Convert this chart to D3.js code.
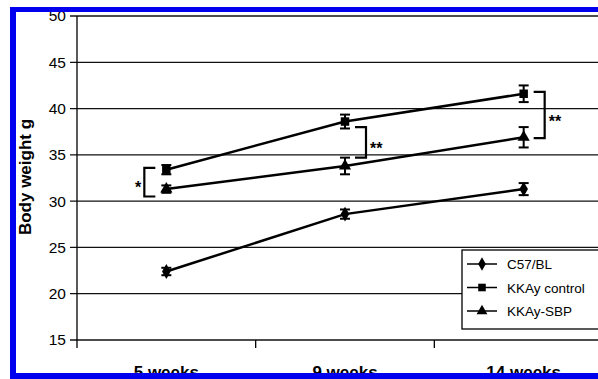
<!DOCTYPE html>
<html>
  <head>
    <style>
      body { margin: 0; background: #fff; }
      svg { display: block; font-family: "Liberation Sans", Arial, sans-serif; }
    </style>
    <script src="https://d3js.org/d3.v7.min.js"></script>
  </head>
  <body>
    <svg width="598" height="379"></svg>
    <script>
      var categories = ["5 weeks", "9 weeks", "14 weeks"];
      var seriesNames = ["C57/BL", "KKAy control", "KKAy-SBP"];
      var c57 = [22.4, 28.6, 31.3];
      var c57Err = [0.4, 0.5, 0.65];
      var kkay = [33.4, 38.6, 41.6];
      var kkayErr = [0.5, 0.75, 0.9];
      var sbp = [31.3, 33.8, 36.9];
      var sbpErr = [0.4, 0.9, 1.1];
      var yTicks = [15, 20, 25, 30, 35, 40, 45, 50];

      var svg = d3.select("svg");

      var x = d3.scaleBand().domain(categories).range([77, 613]);
      var y = d3.scaleLinear().domain([15, 50]).range([340, 16]);

      var series = [
        { name: seriesNames[0], values: c57, err: c57Err, symbol: d3.symbolDiamond, size: 64 },
        { name: seriesNames[1], values: kkay, err: kkayErr, symbol: d3.symbolSquare, size: 72 },
        { name: seriesNames[2], values: sbp, err: sbpErr, symbol: d3.symbolTriangle, size: 64 }
      ];

      function cx(i) {
        return x(categories[i]) + x.bandwidth() / 2;
      }

      // gridlines
      svg.append("g")
        .selectAll("line")
        .data(yTicks)
        .enter()
        .append("line")
        .attr("x1", 70)
        .attr("x2", 598)
        .attr("y1", function (d) { return y(d); })
        .attr("y2", function (d) { return y(d); })
        .attr("stroke", "#111")
        .attr("stroke-width", 1.3);

      // y axis labels
      var yAxis = svg.append("g")
        .attr("transform", "translate(77,0)")
        .call(d3.axisLeft(y).tickValues(yTicks).tickSize(0).tickPadding(11));
      yAxis.select(".domain").remove();
      yAxis.selectAll("text")
        .attr("font-size", 15.5)
        .attr("font-family", "Liberation Sans, Arial, sans-serif")
        .attr("fill", "#000");

      svg.append("line")
        .attr("x1", 77).attr("x2", 77)
        .attr("y1", y(50)).attr("y2", 348)
        .attr("stroke", "#000").attr("stroke-width", 1.3);

      // x axis ticks at band edges
      svg.append("g")
        .selectAll("line")
        .data(categories.slice(1))
        .enter()
        .append("line")
        .attr("x1", function (d) { return x(d); })
        .attr("x2", function (d) { return x(d); })
        .attr("y1", 340).attr("y2", 348)
        .attr("stroke", "#000").attr("stroke-width", 1.3);

      var xAxis = svg.append("g")
        .attr("transform", "translate(0,340)")
        .call(d3.axisBottom(x).tickSize(0).tickPadding(26));
      xAxis.select(".domain").remove();
      xAxis.selectAll("text")
        .attr("font-size", 17)
        .attr("font-weight", "bold")
        .attr("font-family", "Liberation Sans, Arial, sans-serif")
        .attr("fill", "#000");

      // y axis title
      svg.append("text")
        .attr("transform", "translate(31,177) rotate(-90)")
        .attr("text-anchor", "middle")
        .attr("font-size", 17)
        .attr("font-weight", "bold")
        .text("Body weight g");

      // lines, error bars, markers
      var line = d3.line()
        .x(function (d, i) { return cx(i); })
        .y(function (d) { return y(d); });

      series.forEach(function (s) {
        var g = svg.append("g");
        g.append("path")
          .datum(s.values)
          .attr("d", line)
          .attr("fill", "none")
          .attr("stroke", "#000")
          .attr("stroke-width", 2.5);

        s.values.forEach(function (v, i) {
          var px = cx(i);
          var top = y(v + s.err[i]), bot = y(v - s.err[i]);
          g.append("line").attr("x1", px).attr("x2", px).attr("y1", top).attr("y2", bot)
            .attr("stroke", "#000").attr("stroke-width", 2);
          [top, bot].forEach(function (yy) {
            g.append("line").attr("x1", px - 5).attr("x2", px + 5).attr("y1", yy).attr("y2", yy)
              .attr("stroke", "#000").attr("stroke-width", 2);
          });
          g.append("path")
            .attr("d", d3.symbol().type(s.symbol).size(s.size)())
            .attr("transform", "translate(" + px + "," + y(v) + ")")
            .attr("fill", "#000");
        });
      });

      // significance brackets
      function bracket(i, side, vTop, vBot, label) {
        var px = cx(i);
        var yt = y(vTop), yb = y(vBot);
        var arm, vx, path, tx, anchor;
        if (side === "left") {
          vx = px - 22; arm = px - 11;
          tx = vx - 3; anchor = "end";
        } else {
          vx = px + 21; arm = px + 10;
          tx = vx + 4; anchor = "start";
        }
        path = "M" + arm + "," + yt + "H" + vx + "V" + yb + "H" + arm;
        svg.append("path").attr("d", path).attr("fill", "none")
          .attr("stroke", "#000").attr("stroke-width", 2.2);
        svg.append("text")
          .attr("x", tx)
          .attr("y", (yt + yb) / 2 + (side === "left" ? 11 : 12))
          .attr("text-anchor", anchor)
          .attr("font-size", 16)
          .attr("font-weight", "bold")
          .text(label);
      }
      bracket(0, "left", 33.6, 30.5, "*");
      bracket(1, "right", 38.0, 34.7, "**");
      bracket(2, "right", 41.8, 36.8, "**");

      // legend
      var legend = svg.append("g").attr("transform", "translate(462,250)");
      legend.append("rect")
        .attr("width", 150).attr("height", 79)
        .attr("fill", "#fff").attr("stroke", "#000").attr("stroke-width", 1.3);
      series.forEach(function (s, i) {
        var ly = 14 + i * 23.5;
        legend.append("line").attr("x1", 5).attr("x2", 35).attr("y1", ly).attr("y2", ly)
          .attr("stroke", "#000").attr("stroke-width", 1.5);
        legend.append("path")
          .attr("d", d3.symbol().type(s.symbol).size(s.size * 0.8)())
          .attr("transform", "translate(20," + ly + ")")
          .attr("fill", "#000");
        legend.append("text")
          .attr("x", 45).attr("y", ly + 5)
          .attr("font-size", 13.5)
          .text(s.name);
      });

      // blue frame
      svg.append("rect").attr("x", 10).attr("y", 7).attr("width", 600).attr("height", 5).attr("fill", "#0000ee");
      svg.append("rect").attr("x", 10).attr("y", 7).attr("width", 6).attr("height", 372).attr("fill", "#0000ee");
      svg.append("rect").attr("x", 10).attr("y", 373).attr("width", 600).attr("height", 6).attr("fill", "#0000ee");
    </script>
  </body>
</html>
